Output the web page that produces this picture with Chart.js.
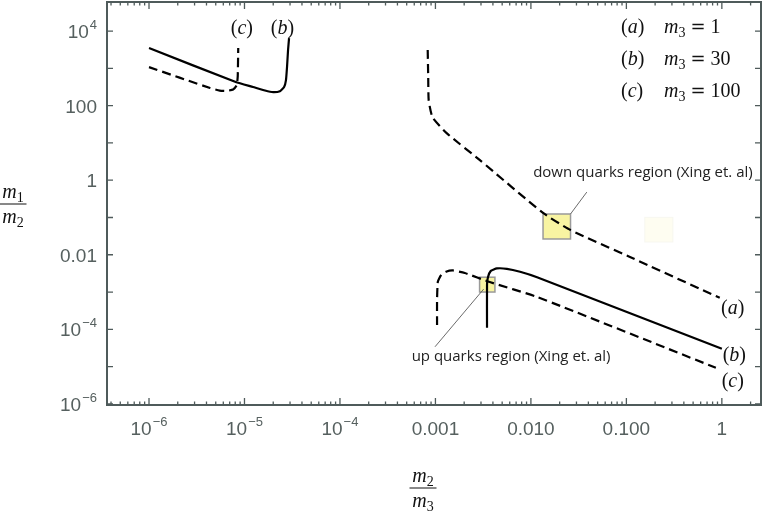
<!DOCTYPE html>
<html>
<head>
<meta charset="utf-8">
<script src="https://cdn.jsdelivr.net/npm/chart.js@4.4.1/dist/chart.umd.min.js"></script>
<style>
    html, body { margin: 0; padding: 0; background: #fff; }
    canvas { display: block; }
</style>
</head>
<body>
<canvas id="grafica" width="764" height="514"></canvas>
<script>
//-----------------datos (m2/m3 , m1/m2)---------------------------------------------
// curva (a) m3 = 1, discontinua
const aX = [8.3e-4, 8.4e-4, 8.5e-4, 9.3e-4, 1.32e-3, 2.9e-3, 0.0134, 0.026, 0.109, 0.95]
const aY = [3100, 600, 140, 49, 18, 3.5, 0.132, 0.046, 0.0087, 7e-4]

// curva (b) m3 = 30, continua (rama izquierda y rama derecha)
const bIzqX = [1e-6, 8.1e-6, 1.23e-5, 1.64e-5, 2.0e-5, 2.35e-5, 2.6e-5, 2.72e-5, 2.79e-5, 2.86e-5, 2.93e-5]
const bIzqY = [3500, 430, 316, 254, 230, 245, 316, 485, 1085, 3100, 6500]
const bDerX = [3.47e-3, 3.47e-3, 3.55e-3, 3.8e-3, 4.4e-3, 5.6e-3, 7.7e-3, 0.0116, 1.0]
const bDerY = [1.1e-4, 1.55e-3, 2.5e-3, 3.7e-3, 4.3e-3, 4.2e-3, 3.5e-3, 2.5e-3, 3e-5]

// curva (c) m3 = 100, discontinua (rama izquierda y rama derecha)
const cIzqX = [1e-6, 4.36e-6, 5.5e-6, 6.6e-6, 7.6e-6, 8.3e-6, 8.5e-6, 8.6e-6]
const cIzqY = [1080, 296, 254, 250, 270, 355, 620, 3500]
const cDerX = [1.04e-3, 1.04e-3, 1.06e-3, 1.15e-3, 1.29e-3, 1.52e-3, 2.03e-3, 3.7e-3, 0.0116, 0.865]
const cDerY = [1.3e-4, 6.2e-4, 1.9e-3, 2.9e-3, 3.5e-3, 3.8e-3, 3.25e-3, 1.85e-3, 7.4e-4, 9.3e-6]

// regiones de Xing et. al
const cajaDownX = [0.0134, 0.026]
const cajaDownY = [0.0265, 0.124]
const cajaUpX = [2.9e-3, 4.2e-3]
const cajaUpY = [1.0e-3, 2.5e-3]
const cajaTenueX = [0.156, 0.307]
const cajaTenueY = [0.022, 0.101]

// ejes
const xTicks = [1e-6, 1e-5, 1e-4, 1e-3, 1e-2, 1e-1, 1]
const xTickLabels = ['10^-6', '10^-5', '10^-4', '0.001', '0.010', '0.100', '1']
const yTicks = [1e-6, 1e-4, 1e-2, 1, 100, 1e4]
const yTickLabels = ['10^-6', '10^-4', '0.01', '1', '100', '10^4']
const xMin = Math.pow(10, -6.44)
const xMax = Math.pow(10, 0.41)
const yMin = Math.pow(10, -6.03)
const yMax = Math.pow(10, 4.78)

// leyenda: letra de la curva y valor de m3
const leyendaLetras = ['a', 'b', 'c']
const leyendaM3 = ['1', '30', '100']
//----------------//----------------//----------------//----------------//----------------

const colorEje = '#4f5b5b'
const fuenteTicks = '19px "Liberation Sans", Arial, sans-serif'
const fuenteExp = '13px "Liberation Sans", Arial, sans-serif'
const serif = '"Liberation Serif", "DejaVu Serif", serif'
const it = 'italic 20px ' + serif
const up = '20px ' + serif
const sub = '14px ' + serif
const igual = '18px "DejaVu Serif", serif'
const fuenteNota = '15px "Open Sans", "Noto Sans", sans-serif'

function puntos(xs, ys) {
    return xs.map(function (x, i) { return { x: x, y: ys[i] } })
}

//dibuja una etiqueta tipo 10^-6 con el exponente elevado
function textoPotencia(ctx, label, x, y, align) {
    let partes = label.split('^')
    let base = partes[0]
    let exp = partes[1] ? partes[1].replace('-', '\u2212') : ''
    ctx.font = fuenteTicks
    let wb = ctx.measureText(base).width
    ctx.font = fuenteExp
    let we = exp ? ctx.measureText(exp).width + 1 : 0
    let x0 = align == 'right' ? x - wb - we : x - (wb + we) / 2
    ctx.textAlign = 'left'
    ctx.textBaseline = 'alphabetic'
    ctx.font = fuenteTicks
    ctx.fillText(base, x0, y)
    if (exp) {
        ctx.font = fuenteExp
        ctx.fillText(exp, x0 + wb + 1, y - 9)
    }
}

//ancho de un texto hecho de varias partes
function anchoRuns(ctx, runs) {
    let w = 0
    runs.forEach(function (r) {
        ctx.font = r[1]
        w += ctx.measureText(r[0]).width
    })
    return w
}

//texto con partes en cursiva / subindices
function textoRuns(ctx, runs, x, y) {
    ctx.textAlign = 'left'
    ctx.textBaseline = 'alphabetic'
    let px = x
    runs.forEach(function (r) {
        ctx.font = r[1]
        ctx.fillText(r[0], px, y + (r[2] || 0))
        px += ctx.measureText(r[0]).width
    })
}

function etiquetaCurva(letra) {
    return [['(', up], [letra, it], [')', up]]
}

//fraccion m_i / m_j para los titulos de los ejes
function fraccion(ctx, cx, yBarra, num, den, anchoBarra) {
    ctx.fillStyle = '#111'
    let wn = anchoRuns(ctx, num)
    let wd = anchoRuns(ctx, den)
    textoRuns(ctx, num, cx - wn / 2, yBarra - 6)
    textoRuns(ctx, den, cx - wd / 2, yBarra + 19)
    ctx.strokeStyle = '#111'
    ctx.lineWidth = 1
    ctx.beginPath()
    ctx.moveTo(cx - anchoBarra / 2, yBarra)
    ctx.lineTo(cx + anchoBarra / 2, yBarra)
    ctx.stroke()
}

//-------------------cajas de las regiones, se dibujan debajo de las curvas--------------------------
const pluginCajas = {
    id: 'cajas',
    beforeDatasetsDraw(chart) {
        const ctx = chart.ctx
        const sx = chart.scales.x
        const sy = chart.scales.y
        function caja(xs, ys, relleno, borde, ancho) {
            let x0 = sx.getPixelForValue(xs[0]), x1 = sx.getPixelForValue(xs[1])
            let y0 = sy.getPixelForValue(ys[1]), y1 = sy.getPixelForValue(ys[0])
            ctx.fillStyle = relleno
            ctx.fillRect(x0, y0, x1 - x0, y1 - y0)
            ctx.strokeStyle = borde
            ctx.lineWidth = ancho
            ctx.strokeRect(x0, y0, x1 - x0, y1 - y0)
        }
        ctx.save()
        caja(cajaTenueX, cajaTenueY, '#fefdf1', '#f7f7f0', 1)
        caja(cajaDownX, cajaDownY, '#f8f4a2', '#9a9a9a', 1.5)
        caja(cajaUpX, cajaUpY, '#f8f4a2', '#9a9a9a', 1.5)
        ctx.restore()
    }
}

//-------------------marco, ticks, etiquetas y textos--------------------------
const pluginMarco = {
    id: 'marco',
    afterDraw(chart) {
        const ctx = chart.ctx
        const a = chart.chartArea
        const sx = chart.scales.x
        const sy = chart.scales.y
        ctx.save()

        //marco
        ctx.strokeStyle = colorEje
        ctx.lineWidth = 2
        ctx.strokeRect(a.left, a.top, a.right - a.left, a.bottom - a.top)

        //ticks del eje x (abajo y arriba), mayores y menores
        ctx.lineWidth = 1.3
        ctx.beginPath()
        for (let d = -7; d <= 0; d++) {
            for (let k = 1; k <= 9; k++) {
                let v = k * Math.pow(10, d)
                if (v < xMin || v > xMax) continue
                let px = sx.getPixelForValue(v)
                let largo = k == 1 ? 7 : 3.5
                ctx.moveTo(px, a.bottom)
                ctx.lineTo(px, a.bottom - largo)
                ctx.moveTo(px, a.top)
                ctx.lineTo(px, a.top + largo)
            }
        }
        //ticks del eje y en cada decada
        for (let d = -6; d <= 4; d++) {
            let py = sy.getPixelForValue(Math.pow(10, d))
            ctx.moveTo(a.left, py)
            ctx.lineTo(a.left + 6, py)
            ctx.moveTo(a.right, py)
            ctx.lineTo(a.right - 6, py)
        }
        ctx.stroke()

        //etiquetas de los ejes
        ctx.fillStyle = '#56605f'
        xTicks.forEach(function (v, i) {
            textoPotencia(ctx, xTickLabels[i], sx.getPixelForValue(v), a.bottom + 30, 'center')
        })
        yTicks.forEach(function (v, i) {
            textoPotencia(ctx, yTickLabels[i], a.left - 10, sy.getPixelForValue(v) + 7, 'right')
        })

        //titulos de los ejes
        fraccion(ctx, 13, 204, [['m', it], ['1', sub, 4]], [['m', it], ['2', sub, 4]], 27)
        fraccion(ctx, 423, 488, [['m', it], ['2', sub, 4]], [['m', it], ['3', sub, 4]], 27)

        //leyenda arriba a la derecha
        ctx.fillStyle = '#111'
        leyendaLetras.forEach(function (letra, i) {
            let yb = a.top + 31 + i * 32
            textoRuns(ctx, etiquetaCurva(letra), a.right - 140, yb)
            textoRuns(ctx, [['m', it], ['3', sub, 4], [' ', up], ['=', igual], [' ', up], [leyendaM3[i], up]], a.right - 97, yb)
        })

        //etiquetas de las curvas
        function etiqueta(letra, x, y) {
            let runs = etiquetaCurva(letra)
            let w = anchoRuns(ctx, runs)
            textoRuns(ctx, runs, sx.getPixelForValue(x) - w / 2, sy.getPixelForValue(y) + 6)
        }
        etiqueta('c', 9.4e-6, 1.2e4)
        etiqueta('b', 2.5e-5, 1.2e4)
        etiqueta('a', 1.3, 3.7e-4)
        etiqueta('b', 1.35, 2.0e-5)
        etiqueta('c', 1.3, 4.2e-6)

        //notas de las regiones con su linea
        ctx.strokeStyle = '#5a5a5a'
        ctx.lineWidth = 0.9
        ctx.beginPath()
        ctx.moveTo(sx.getPixelForValue(0.0385), sy.getPixelForValue(0.48))
        ctx.lineTo(sx.getPixelForValue(cajaDownX[1]), sy.getPixelForValue(cajaDownY[1]))
        ctx.moveTo(sx.getPixelForValue(9.9e-4), sy.getPixelForValue(3.4e-5))
        ctx.lineTo(sx.getPixelForValue(3.2e-3), sy.getPixelForValue(1.2e-3))
        ctx.stroke()

        ctx.fillStyle = '#222'
        ctx.font = fuenteNota
        ctx.textAlign = 'center'
        ctx.textBaseline = 'middle'
        ctx.fillText('down quarks region (Xing et. al)', sx.getPixelForValue(0.149), sy.getPixelForValue(1.56))
        ctx.fillText('up quarks region (Xing et. al)', sx.getPixelForValue(6.2e-3), sy.getPixelForValue(1.8e-5))

        ctx.restore()
    }
}
//-------------------//-------------------//-------------------//-------------------

function serie(xs, ys, discontinua) {
    return {
        data: puntos(xs, ys),
        borderColor: '#000',
        backgroundColor: '#000',
        borderWidth: 2.2,
        borderDash: discontinua ? [9, 5] : [],
        pointRadius: 0,
        fill: false,
        tension: 0.15
    }
}

const ctx = document.getElementById('grafica').getContext('2d')
let chart = new Chart(ctx, {
    type: 'line',
    data: {
        datasets: [
            serie(aX, aY, true),
            serie(bIzqX, bIzqY, false),
            serie(bDerX, bDerY, false),
            serie(cIzqX, cIzqY, true),
            serie(cDerX, cDerY, true)
        ]
    },
    options: {
        responsive: false,
        animation: false,
        layout: { padding: { top: 2, right: 3, left: 0, bottom: 0 } },
        plugins: {
            legend: { display: false },
            tooltip: { enabled: false }
        },
        scales: {
            x: {
                type: 'logarithmic',
                min: xMin,
                max: xMax,
                bounds: 'data',
                ticks: { display: false },
                grid: { display: false },
                border: { display: false },
                afterFit: function (s) { s.height = 109 }
            },
            y: {
                type: 'logarithmic',
                min: yMin,
                max: yMax,
                bounds: 'data',
                ticks: { display: false },
                grid: { display: false },
                border: { display: false },
                afterFit: function (s) { s.width = 107 }
            }
        }
    },
    plugins: [pluginCajas, pluginMarco]
})
</script>
</body>
</html>
